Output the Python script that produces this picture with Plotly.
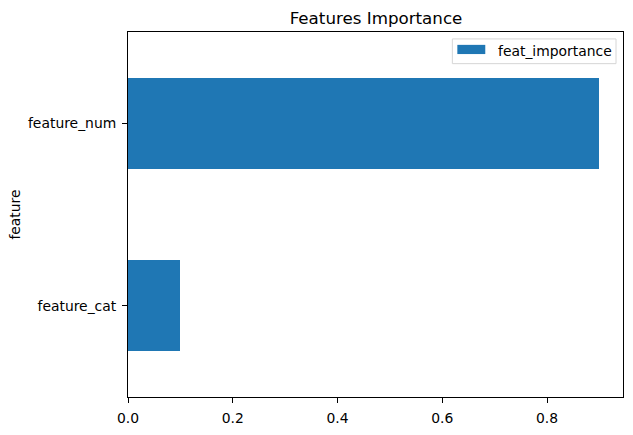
import plotly.graph_objects as go

features = ["feature_cat", "feature_num"]
importance = [0.1, 0.9]
series_name = "feat_importance"
x_ticks = [0.0, 0.2, 0.4, 0.6, 0.8]

FONT = "DejaVu Sans"
BLUE = "#1f77b4"

fig = go.Figure()
fig.add_trace(go.Bar(
    y=features, x=importance, orientation="h", width=0.5,
    marker=dict(color=BLUE, line=dict(width=0)), name=series_name, showlegend=False,
))

W, H = 633, 435
L, R, T, B = 128, 9, 32, 34
pw, ph = W - L - R, H - T - B

def px(x):
    return (x - L) / pw

def py(y):
    return (H - B - y) / ph

# manual legend (matplotlib style)
fig.add_shape(type="rect", xref="paper", yref="paper",
              x0=px(453), x1=px(617), y0=py(64), y1=py(39),
              line=dict(color="#d6d6d6", width=1), fillcolor="rgba(255,255,255,0.8)")
fig.add_shape(type="rect", xref="paper", yref="paper",
              x0=px(458), x1=px(486), y0=py(54.3), y1=py(45),
              line=dict(width=0), fillcolor=BLUE)
fig.add_annotation(xref="paper", yref="paper", x=px(497), y=py(51.5),
                   xanchor="left", yanchor="middle", showarrow=False,
                   text=series_name, font=dict(family=FONT, size=13.9, color="black"))

fig.update_layout(
    width=W, height=H,
    margin=dict(l=L, r=R, t=T, b=B, pad=0),
    paper_bgcolor="white", plot_bgcolor="white",
    font=dict(family=FONT, size=13.9, color="black"),
    title=dict(text="Features Importance", x=(L + pw / 2) / W, xanchor="center",
               y=1 - 18 / H, yanchor="middle", yref="container",
               font=dict(family=FONT, size=16.7, color="black")),
    bargap=0,
)
fig.update_xaxes(
    range=[0, 0.945], tickvals=x_ticks, tickformat=".1f",
    showgrid=False, zeroline=False,
    showline=True, mirror=True, linecolor="black", linewidth=1,
    ticks="outside", ticklen=5, tickcolor="black", tickwidth=1,
    ticklabelstandoff=3,
)
fig.update_yaxes(
    type="category", categoryorder="array", categoryarray=features,
    range=[-0.5, 1.5],
    showgrid=False, zeroline=False,
    showline=True, mirror=True, linecolor="black", linewidth=1,
    ticks="outside", ticklen=5, tickcolor="black", tickwidth=1,
    ticklabelstandoff=3,
    title=dict(text="feature", standoff=4, font=dict(family=FONT, size=13.9)),
)

fig.write_html("out.html")
